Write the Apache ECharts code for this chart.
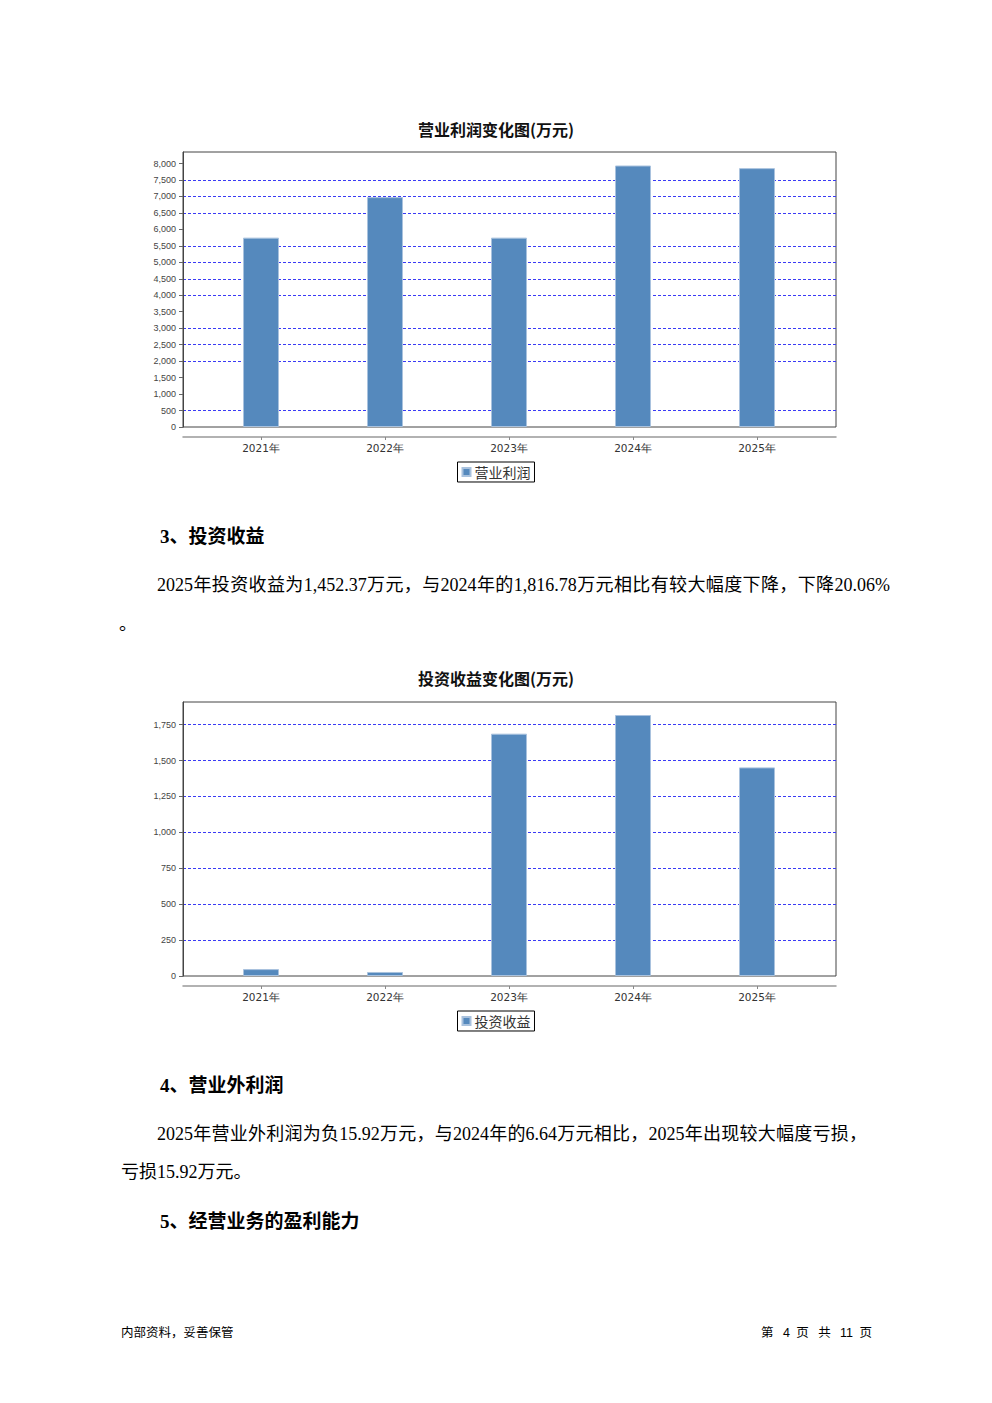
<!DOCTYPE html>
<html>
<head>
<meta charset="utf-8">
<script src="https://cdn.jsdelivr.net/npm/echarts@6/dist/echarts.min.js"></script>
<style>
  html, body { margin: 0; padding: 0; background: #fff; }
  #page { position: relative; width: 992px; height: 1403px; overflow: hidden; }
  #chart { position: absolute; left: 0; top: 0; width: 992px; height: 1403px; }
  .t { position: absolute; white-space: nowrap; color: #000;
       font-family: "Liberation Serif", "Noto Sans CJK SC", serif; }
  .h { font-family: "Liberation Serif", "Noto Sans CJK SC", serif; font-weight: bold; font-size: 19px; line-height: 24px; }
  .p { font-size: 18px; line-height: 24px; text-align: justify; text-align-last: justify; }
  .f { font-family: "Liberation Sans", "Noto Sans CJK SC", sans-serif; font-size: 12.5px; line-height: 16px; }
</style>
</head>
<body>
<div id="page">
  <div id="chart"></div>
  <div class="t h" style="left:160px; top:525px;">3、投资收益</div>
  <div class="t p" style="left:157px; top:573px; width:733px;">2025年投资收益为1,452.37万元，与2024年的1,816.78万元相比有较大幅度下降，下降20.06%</div>
  <div class="t p" style="left:119px; top:612px; text-align:left; text-align-last:left;">。</div>
  <div class="t h" style="left:160px; top:1074px;">4、营业外利润</div>
  <div class="t p" style="left:157px; top:1122px; width:710px;">2025年营业外利润为负15.92万元，与2024年的6.64万元相比，2025年出现较大幅度亏损，</div>
  <div class="t p" style="left:121px; top:1160px; text-align:left; text-align-last:left;">亏损15.92万元。</div>
  <div class="t h" style="left:160px; top:1210px;">5、经营业务的盈利能力</div>
  <div class="t f" style="left:121px; top:1325px;">内部资料，妥善保管</div>
  <div class="t f" style="left:761px; top:1325px; width:111px; text-align:justify; text-align-last:justify;">第 4 页 共 11 页</div>
</div>
<script>
// ---------- data ----------
const categories = ['2021年', '2022年', '2023年', '2024年', '2025年'];

const profitTitle = '营业利润变化图(万元)';
const profitName = '营业利润';
const profitValues = [5750, 6980, 5750, 7940, 7860];
const profitAxis = { min: 0, max: 8350, interval: 500 };
const profitGridLines = [500, 2000, 2500, 3000, 4000, 4500, 5000, 5500, 6500, 7000, 7500];

const investTitle = '投资收益变化图(万元)';
const investName = '投资收益';
const investValues = [48, 28, 1687, 1816.78, 1452.37];
const investAxis = { min: 0, max: 1907.6, interval: 250 };
const investGridLines = [250, 500, 750, 1000, 1250, 1500, 1750];

// ---------- chart ----------
const chart = echarts.init(document.getElementById('chart'), null, { renderer: 'svg', width: 992, height: 1403 });

const BLUE = '#5589bd';
const GRIDBLUE = '#3b3bf5';

function gridColors(axis, shown) {
  const cols = [];
  for (let v = axis.min; v <= axis.max + 1e-9; v += axis.interval) {
    cols.push(shown.indexOf(v) >= 0 ? GRIDBLUE : 'rgba(0,0,0,0)');
  }
  cols.push('rgba(0,0,0,0)');
  return cols;
}

const option = {
  animation: false,
  backgroundColor: '#fff',
  title: [], legend: [], grid: [], xAxis: [], yAxis: [], series: []
};

function addChart(k, cfg) {
  const gA = 2 * k, gB = 2 * k + 1;
  option.title.push({
    text: cfg.title, left: 'center', top: cfg.titleTop,
    textStyle: { fontFamily: 'Noto Sans CJK SC', fontWeight: 'bold', fontSize: 16, color: '#111' }
  });
  // frame grid (full plot box)
  option.grid.push({ left: 183, top: cfg.top, width: 653, height: cfg.height, show: true,
    borderColor: '#444', borderWidth: 1, backgroundColor: 'rgba(0,0,0,0)' });
  // bar grid (inner category band)
  option.grid.push({ left: 199, top: cfg.top, width: 620, height: cfg.height });

  option.xAxis.push({
    type: 'category', gridIndex: gA, data: categories, offset: 10, position: 'bottom',
    axisLine: { show: true, onZero: false, lineStyle: { color: '#999', width: 1.5 } },
    axisTick: { show: false }, axisLabel: { show: false }, splitLine: { show: false }
  });
  option.xAxis.push({
    type: 'category', gridIndex: gB, data: categories, offset: 10, position: 'bottom',
    axisLine: { show: false, onZero: false },
    axisTick: { show: true, alignWithLabel: true, length: 3, lineStyle: { color: '#888' } },
    axisLabel: { fontFamily: 'DejaVu Sans', fontSize: 10.5, color: '#333', margin: 5 },
    splitLine: { show: false }
  });
  option.yAxis.push({
    type: 'value', gridIndex: gA, min: cfg.axis.min, max: cfg.axis.max, interval: cfg.axis.interval,
    axisLine: { show: true, onZero: false, lineStyle: { color: '#444' } },
    axisTick: { show: true, length: 4, lineStyle: { color: '#666' } },
    axisLabel: { fontFamily: 'Liberation Sans', fontSize: 9, color: '#444', margin: 7, showMaxLabel: false,
      formatter: v => Number(v).toLocaleString('en-US') },
    splitLine: { show: true, showMinLine: true, showMaxLine: true,
      lineStyle: { color: gridColors(cfg.axis, cfg.gridLines), type: [3, 2], width: 1 } }
  });
  option.yAxis.push({
    type: 'value', gridIndex: gB, min: cfg.axis.min, max: cfg.axis.max, interval: cfg.axis.interval, show: false,
    splitLine: { show: false }
  });
  option.series.push({
    type: 'bar', name: cfg.name, xAxisIndex: gB, yAxisIndex: gB, data: cfg.values, barWidth: 36,
    itemStyle: { color: BLUE, borderColor: '#a9c2de', borderWidth: 1 }
  });
  option.legend.push({
    data: [cfg.name], left: 'center', top: cfg.legendTop, icon: 'rect', itemWidth: 8, itemHeight: 8, itemGap: 4,
    borderColor: '#000', borderWidth: 1, padding: [3, 4, 3, 4],
    textStyle: { fontFamily: 'Noto Sans CJK SC', fontSize: 14, color: '#333', padding: [0, 0, 0, -1] }
  });
}

addChart(0, { title: profitTitle, titleTop: 116, top: 152, height: 275, axis: profitAxis,
  gridLines: profitGridLines, values: profitValues, name: profitName, legendTop: 462 });
addChart(1, { title: investTitle, titleTop: 665, top: 702, height: 274, axis: investAxis,
  gridLines: investGridLines, values: investValues, name: investName, legendTop: 1011 });

chart.setOption(option);
</script>
</body>
</html>
